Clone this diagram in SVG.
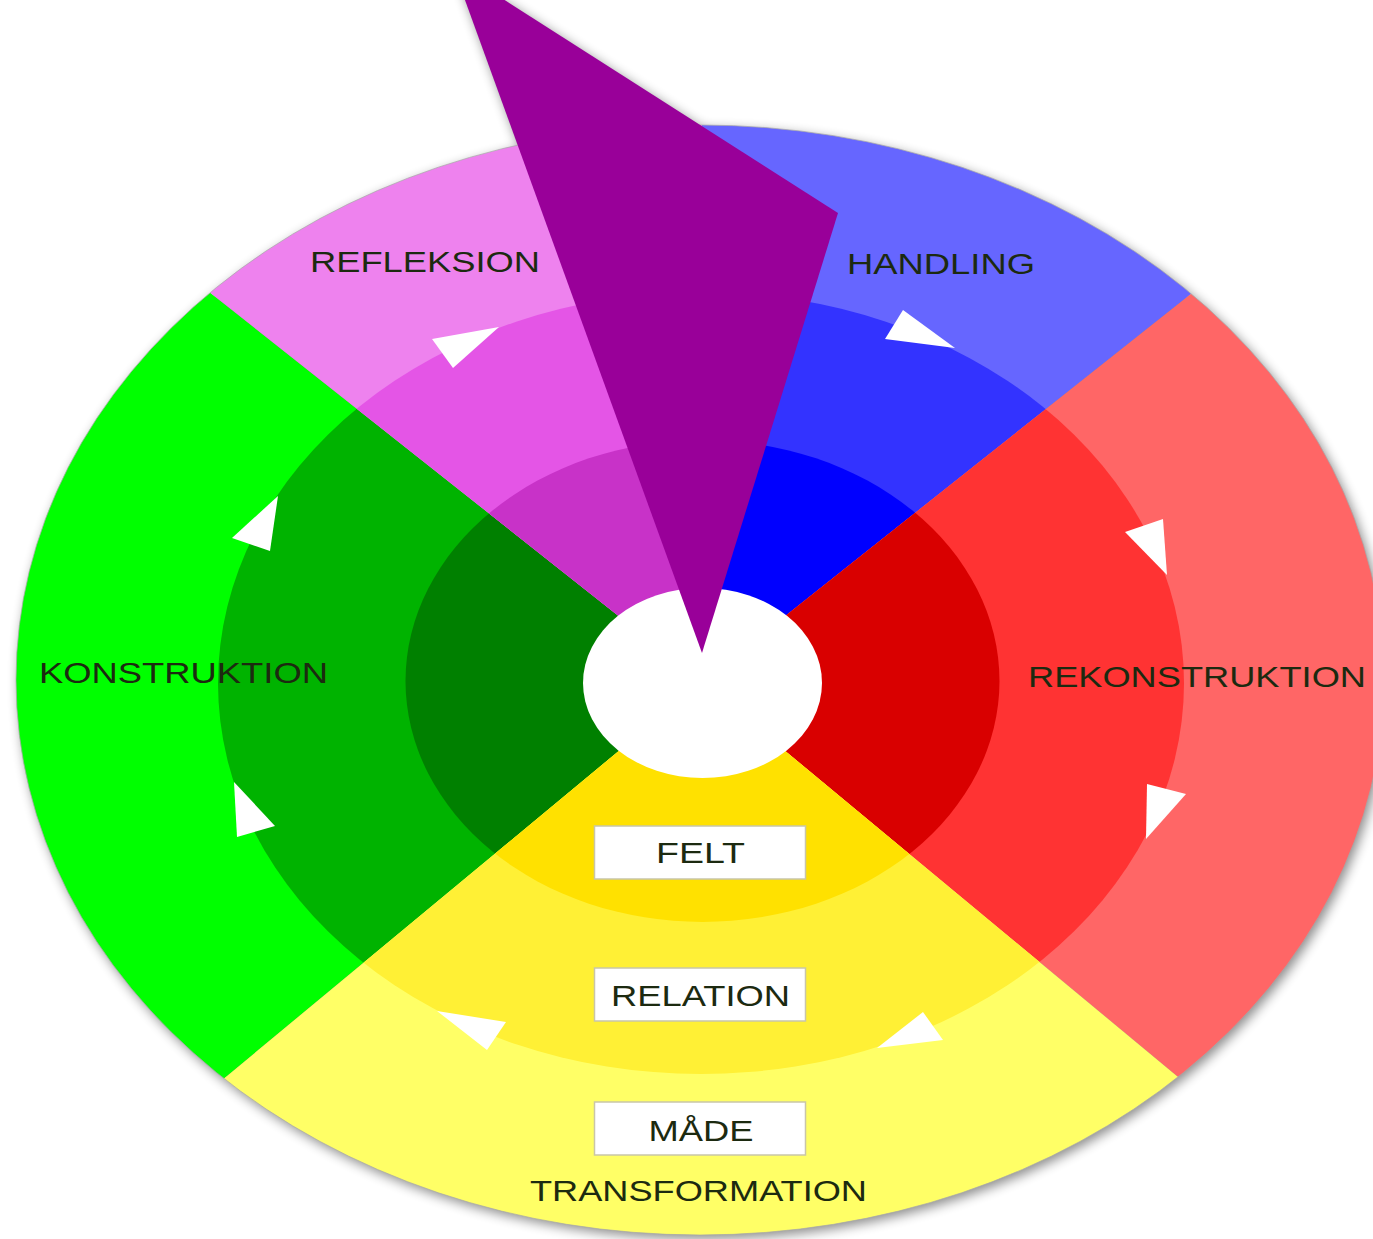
<svg xmlns="http://www.w3.org/2000/svg" width="1373" height="1239" viewBox="0 0 1373 1239">
<defs>
<style>
.lbl{font-family:"Liberation Sans",Arial,sans-serif;font-size:29px;fill:#1c2a10;}
.box{fill:#ffffff;stroke:#c9c6a8;stroke-width:1.5;}
.arrow{fill:#ffffff;}
</style>
<filter id="blur" x="-10%" y="-10%" width="120%" height="120%"><feGaussianBlur stdDeviation="6"/></filter>
<clipPath id="cL"><polygon points="702,682 -300,-111 -300,1513"/></clipPath>
<clipPath id="cR"><polygon points="702,682 1700,-110 1700,1510"/></clipPath>
<clipPath id="cB"><polygon points="702,682 -300,1513 1700,1510"/></clipPath>
<clipPath id="cTL"><polygon points="702,682 -300,-111 -300,-300 702,-300"/></clipPath>
<clipPath id="cTR"><polygon points="702,682 702,-300 1700,-300 1700,-110"/></clipPath>
<ellipse id="eOut" cx="700" cy="680" rx="684" ry="555"/>
<ellipse id="eMid" cx="701" cy="683" rx="483" ry="391"/>
<ellipse id="eIn" cx="702.5" cy="681" rx="297" ry="241"/>
</defs>
<rect width="1373" height="1239" fill="#ffffff"/>
<g id="shadow" filter="url(#blur)" opacity="0.45">
<ellipse cx="703" cy="684" rx="684" ry="555" fill="#000"/>
<polygon points="456,-29 841,217 705,657" fill="#000"/>
</g>
<g id="konstruktion" clip-path="url(#cL)">
<use href="#eOut" fill="#00ff00"/>
<use href="#eMid" fill="#00b300"/>
<use href="#eIn" fill="#008000"/>
</g>
<g id="refleksion" clip-path="url(#cTL)">
<use href="#eOut" fill="#ee82ee"/>
<use href="#eMid" fill="#e455e6"/>
<use href="#eIn" fill="#c832c8"/>
</g>
<g id="handling" clip-path="url(#cTR)">
<use href="#eOut" fill="#6666ff"/>
<use href="#eMid" fill="#3333ff"/>
<use href="#eIn" fill="#0000ff"/>
</g>
<g id="rekonstruktion" clip-path="url(#cR)">
<use href="#eOut" fill="#ff6666"/>
<use href="#eMid" fill="#ff3333"/>
<use href="#eIn" fill="#d90000"/>
</g>
<g id="transformation" clip-path="url(#cB)">
<use href="#eOut" fill="#ffff66"/>
<use href="#eMid" fill="#fff035"/>
<use href="#eIn" fill="#ffe100"/>
</g>
<ellipse cx="700" cy="680" rx="684" ry="555" fill="none" stroke="#a8a8a8" stroke-width="1" opacity="0.7"/>
<g id="center">
<ellipse cx="702.5" cy="683" rx="119.5" ry="95" fill="#ffffff"/>
</g>
<g id="pointer">
<polygon points="453,-33 838,213 702,653" fill="#990099"/>
</g>
<g id="connectors">
<polygon class="arrow" points="432,339 499,327 453,368"/>
<polygon class="arrow" points="885,339 903,310 955,348"/>
<polygon class="arrow" points="1125,532 1163,519 1167,575"/>
<polygon class="arrow" points="1147,784 1186,794 1146,839"/>
<polygon class="arrow" points="877,1048 923,1012 943,1040"/>
<polygon class="arrow" points="437,1011 506,1022 487,1050"/>
<polygon class="arrow" points="234,782 275,826 237,837"/>
<polygon class="arrow" points="232,538 278,496 270,551"/>
</g>
<g id="labels">
<text class="lbl" x="425" y="272" text-anchor="middle" textLength="230" lengthAdjust="spacingAndGlyphs">REFLEKSION</text>
<text class="lbl" x="941" y="273.5" text-anchor="middle" textLength="188" lengthAdjust="spacingAndGlyphs">HANDLING</text>
<text class="lbl" x="183.5" y="683" text-anchor="middle" textLength="289" lengthAdjust="spacingAndGlyphs">KONSTRUKTION</text>
<text class="lbl" x="1197" y="687" text-anchor="middle" textLength="338" lengthAdjust="spacingAndGlyphs">REKONSTRUKTION</text>
<text class="lbl" x="698.5" y="1200.5" text-anchor="middle" textLength="337" lengthAdjust="spacingAndGlyphs">TRANSFORMATION</text>
</g>
<g id="felt">
<rect class="box" x="594.5" y="826" width="211" height="53"/>
<text class="lbl" x="700.5" y="863" text-anchor="middle" textLength="89" lengthAdjust="spacingAndGlyphs">FELT</text>
</g>
<g id="relation">
<rect class="box" x="594.5" y="968" width="211" height="53"/>
<text class="lbl" x="700.5" y="1006" text-anchor="middle" textLength="179" lengthAdjust="spacingAndGlyphs">RELATION</text>
</g>
<g id="maade">
<rect class="box" x="594.5" y="1102" width="211" height="53"/>
<text class="lbl" x="701" y="1141" text-anchor="middle" textLength="105" lengthAdjust="spacingAndGlyphs">MÅDE</text>
</g>
</svg>
